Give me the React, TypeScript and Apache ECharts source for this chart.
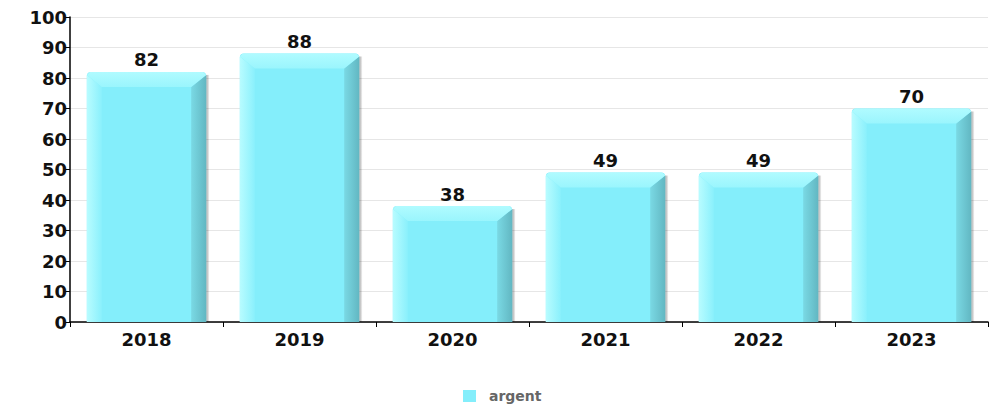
import React, { useEffect, useRef } from "react";
import * as echarts from "echarts";

const categories = ["2018", "2019", "2020", "2021", "2022", "2023"];
const values = [82, 88, 38, 49, 49, 70];
const seriesName = "argent";
const yTicks = [0, 10, 20, 30, 40, 50, 60, 70, 80, 90, 100];

const FONT = "DejaVu Sans";

export default function App() {
  const ref = useRef<HTMLDivElement>(null);
  useEffect(() => {
    if (!ref.current) return;
    const chart = echarts.init(ref.current, null, { renderer: "svg" });
    const renderItem = (params: any, api: any) => {
      const idx = api.value(0);
      const val = api.value(1);
      const top = api.coord([idx, val]);
      const base = api.coord([idx, 0]);
      const w = api.size([1, 0])[0] * 0.78;
      const x = top[0] - w / 2;
      const y = top[1];
      const bottom = base[1];
      const h = bottom - y;
      const b = 15;
      return {
        type: "group",
        children: [
          {
            type: "rect",
            shape: { x: x + w, y: y + 3, width: 3, height: h - 3 },
            style: {
              fill: new echarts.graphic.LinearGradient(0, 0, 1, 0, [
                { offset: 0, color: "rgba(0,0,0,0.35)" },
                { offset: 1, color: "rgba(0,0,0,0.05)" },
              ]),
            },
          },
          {
            type: "rect",
            shape: { x, y, width: w, height: h, r: [4, 4, 0, 0] },
            style: { fill: "#84eefb" },
          },
          {
            type: "polygon",
            shape: { points: [[x, y + 3], [x + b, y + b], [x + b, bottom], [x, bottom]] },
            style: {
              fill: new echarts.graphic.LinearGradient(0, 0, 1, 0, [
                { offset: 0, color: "#b8fcff" },
                { offset: 1, color: "#8af0fc" },
              ]),
            },
          },
          {
            type: "polygon",
            shape: { points: [[x + w, y + 3], [x + w, bottom], [x + w - b, bottom], [x + w - b, y + b]] },
            style: {
              fill: new echarts.graphic.LinearGradient(0, 0, 1, 0, [
                { offset: 0, color: "#7ad9e4" },
                { offset: 1, color: "#62b7c2" },
              ]),
            },
          },
          {
            type: "polygon",
            shape: { points: [[x + 3, y], [x + w - 3, y], [x + w, y + 3], [x + w - b, y + b], [x + b, y + b], [x, y + 3]] },
            style: {
              fill: new echarts.graphic.LinearGradient(0, 0, 0, 1, [
                { offset: 0, color: "#b0fbff" },
                { offset: 1, color: "#9af5fd" },
              ]),
            },
          },
          {
            type: "text",
            x: top[0],
            y: y - 3,
            style: {
              text: String(val),
              textAlign: "center",
              textVerticalAlign: "bottom",
              font: `bold 18px "${FONT}"`,
              fill: "#111",
            },
          },
        ],
      };
    };
    chart.setOption({
      animation: false,
      grid: { left: 70, right: 10, top: 17, bottom: 84 },
      legend: {
        top: 384,
        left: 458,
        itemWidth: 13,
        itemHeight: 12,
        itemGap: 10,
        textStyle: {
          fontFamily: FONT,
          fontWeight: "bold",
          fontSize: 14,
          color: "#666",
          padding: [0, 0, 0, 8],
        },
        data: [{ name: seriesName, icon: "rect", itemStyle: { color: "#84eefb" } }],
      },
      xAxis: {
        type: "category",
        data: categories,
        axisLine: { lineStyle: { color: "#000", width: 1.5 } },
        axisTick: { show: true, length: 5, lineStyle: { color: "#000" } },
        axisLabel: { fontFamily: FONT, fontWeight: "bold", fontSize: 18, color: "#111", margin: 8 },
      },
      yAxis: {
        type: "value",
        min: yTicks[0],
        max: yTicks[yTicks.length - 1],
        interval: 10,
        axisLine: { show: true, lineStyle: { color: "#000", width: 1.5 } },
        axisTick: { show: true, length: 6, lineStyle: { color: "#000" } },
        axisLabel: { fontFamily: FONT, fontWeight: "bold", fontSize: 18, color: "#111", margin: 3 },
        splitLine: { lineStyle: { color: "#e6e6e6" } },
      },
      series: [
        {
          name: seriesName,
          type: "custom",
          renderItem,
          itemStyle: { color: "#84eefb" },
          data: values.map((v, i) => [i, v]),
          encode: { x: 0, y: 1 },
        },
      ],
    });
    return () => chart.dispose();
  }, []);
  return (
    <div
      ref={ref}
      style={{ position: "absolute", left: 0, top: 0, width: 998, height: 406 }}
    />
  );
}
